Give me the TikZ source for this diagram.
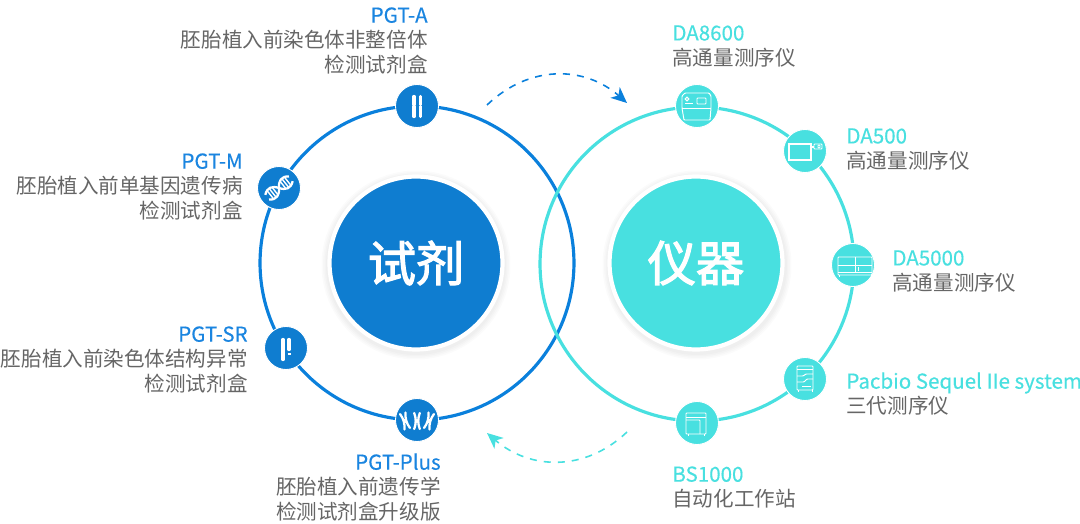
\documentclass[tikz,border=0pt]{standalone}
\usepackage{fontspec}
\setmainfont{Noto Sans CJK SC}
\newfontfamily\hubfont[FakeBold=2.4]{Noto Sans CJK SC}
\newfontfamily\titlefont[FakeBold=.3]{Noto Sans CJK SC}
\usetikzlibrary{arrows.meta}
\definecolor{reagblue}{HTML}{0F7DD0}
\definecolor{ringblue}{HTML}{0A80DC}
\definecolor{instteal}{HTML}{48E0E0}
\definecolor{labgray}{HTML}{666666}
\definecolor{labblue}{HTML}{1A85E0}
\newcommand{\bluetitle}[1]{\textcolor{labblue}{\titlefont #1}}
\newcommand{\tealtitle}[1]{\textcolor{instteal}{\titlefont #1}}
\tikzset{
  ringline/.style={circle,draw=#1,line width=1.8pt,minimum size=6.28cm,inner sep=0pt},
  hubdisc/.style={circle,fill=#1,draw=white,line width=2.4pt,minimum size=3.46cm,inner sep=0pt,text=white,font=\fontsize{27.5}{30}\hubfont},
  iconbase/.style={circle,fill=#1,draw=white,line width=.5pt,minimum size=.86cm,inner sep=0pt},
  leftlab/.style={anchor=north east,align=right,inner sep=0pt,text=labgray,font=\fontsize{11.7}{14.2}\selectfont},
  rightlab/.style={anchor=north west,align=left,inner sep=0pt,text=labgray,font=\fontsize{11.7}{14.2}\selectfont},
  chromo/.style={white,line width=1.9pt,line cap=round},
  xchromo/.style={white,line width=1.3pt,line cap=round},
  thinicon/.style={white,line width=.55pt,rounded corners=.4pt},
  flowarrow/.style={dashed,dash pattern=on 4pt off 4pt,line width=.9pt,-{Stealth[length=9pt,width=8pt,inset=2.5pt]},#1}
}
\begin{document}
\begin{tikzpicture}[x=.02cm,y=-.02cm]
\useasboundingbox (0,0) rectangle (1080,524);
\fill[white] (0,0) rectangle (1080,524);

% two big rings
\node[ringline=ringblue] (ringL) at (417,263) {};
\node[ringline=instteal] (ringR) at (697,264) {};

% soft shadow below the hubs
\foreach \c in {416,697}
  \foreach \r in {1.80,1.83,1.86,1.89}
    \fill[black,opacity=.014] (\c,265) circle(\r cm);

\node[hubdisc=reagblue] (hubL) at (416,263) {试剂};
\node[hubdisc=instteal] (hubR) at (696,263) {仪器};

% small round icons
\foreach \n/\x/\y in {icA/417/106,icM/279/188,icSR/286/348,icPlus/417/420}
  \node[iconbase=reagblue] (\n) at (\x,\y) {};
\foreach \n/\x/\y in {icE/697/106,icF/805/151,icG/853/265,icH/805/379,icJ/697/423}
  \node[iconbase=instteal] (\n) at (\x,\y) {};

% chromosome pair
\begin{scope}[shift={(icA)}]
  \foreach \x in {-3,3.5} {
    \draw[chromo] (\x,-9.5) -- (\x,-1.5);
    \draw[chromo] (\x,.5) -- (\x,10.5);
  }
\end{scope}

% helix
\begin{scope}[shift={(icM)},rotate=38]
  \draw[white,line width=1.3pt] (-15,-3) .. controls (-9,-8) and (-4,-6) .. (0,0) .. controls (4,6) and (9,8) .. (15,3);
  \draw[white,line width=1.3pt] (-15,3) .. controls (-9,8) and (-4,6) .. (0,0) .. controls (4,-6) and (9,-8) .. (15,-3);
  \foreach \x in {-11,-8,-5,5,8,11}
    \draw[white,line width=.8pt] (\x,-5) -- (\x,5);
\end{scope}

% broken chromosome
\begin{scope}[shift={(icSR)}]
  \draw[chromo] (-3,-8.5) -- (-3,11.5);
  \draw[chromo] (3,-8.5) -- (3,1.5);
  \draw[white,line width=.9pt] (1.5,6) -- (5,6);
\end{scope}

% three chromosomes
\begin{scope}[shift={(icPlus)}]
  \foreach \x/\a in {-12/16,0/0,12/-16} {
    \begin{scope}[shift={(\x,1)},rotate=\a]
      \draw[xchromo] (-2.8,-8) .. controls (-.8,-3) and (-.8,3) .. (-2.8,8);
      \draw[xchromo] (2.8,-8) .. controls (.8,-3) and (.8,3) .. (2.8,8);
      \fill[white] (0,0) circle(2);
    \end{scope}
  }
\end{scope}

% DA8600
\begin{scope}[shift={(icE)}]
  \draw[thinicon] (-15,2) -- (-15,-10) -- (-12,-13) -- (12,-13) -- (14,-10) -- (14,2) -- (13,14) -- (-13,14) -- cycle;
  \draw[thinicon] (-15,2) -- (14,2);
  \draw[thinicon] (0,-8) rectangle (9,-2);
  \draw[thinicon] (-12,-3) -- (-4,-3);
  \draw[white,line width=.6pt] (-10,-7) circle(1.8);
\end{scope}

% DA500
\begin{scope}[shift={(icF)}]
  \draw[white,line width=.7pt] (-16,-7) rectangle (6,9);
  \draw[thinicon] (9,-7) rectangle (17,-2);
  \draw[white,line width=.6pt] (6,-4) -- (9,-4);
  \draw[thinicon] (13,-6) rectangle (15,-3);
\end{scope}

% DA5000
\begin{scope}[shift={(icG)}]
  \draw[thinicon] (-15,-8) rectangle (19,10);
  \draw[thinicon] (-15,0) -- (19,0);
  \draw[thinicon] (-15,7) -- (19,7);
  \draw[thinicon] (2,-8) -- (2,7);
  \draw[thinicon] (5,2) -- (5,6);
  \draw[thinicon] (-14,10) -- (-14,12) (18,10) -- (18,12);
\end{scope}

% Pacbio
\begin{scope}[shift={(icH)}]
  \draw[thinicon] (-8,-13) rectangle (8,11);
  \draw[thinicon] (-8,-10) -- (8,-10);
  \draw[thinicon] (-8,-3) -- (-2,-3) -- (1,-5) -- (8,-5);
  \draw[thinicon] (-8,3) -- (-1,3) -- (2,0) -- (8,0);
  \draw[thinicon] (-3,7) -- (6,7);
  \draw[thinicon] (-7,11) -- (-7,13) (7,11) -- (7,13);
\end{scope}

% BS1000
\begin{scope}[shift={(icJ)}]
  \draw[thinicon] (-11,-10) rectangle (9,11);
  \draw[thinicon] (-11,-6) -- (9,-6);
  \draw[thinicon] (-11,-3) -- (3,-3) -- (3,11);
  \draw[thinicon] (-9,11) -- (-9,13) (7,11) -- (7,13);
\end{scope}

% labels of the left ring
\node[leftlab] (labA) at (428,7) {\bluetitle{PGT-A}\\胚胎植入前染色体非整倍体\\检测试剂盒};
\node[leftlab] (labM) at (243,153) {\bluetitle{PGT-M}\\胚胎植入前单基因遗传病\\检测试剂盒};
\node[leftlab] (labSR) at (248,326) {\bluetitle{PGT-SR}\\胚胎植入前染色体结构异常\\检测试剂盒};
\node[leftlab] (labPlus) at (441,453) {\bluetitle{PGT-Plus}\\胚胎植入前遗传学\\检测试剂盒升级版};

% labels of the right ring
\node[rightlab] (labE) at (672,25) {\tealtitle{DA8600}\\高通量测序仪};
\node[rightlab] (labF) at (846,128) {\tealtitle{DA500}\\高通量测序仪};
\node[rightlab] (labG) at (892,250) {\tealtitle{DA5000}\\高通量测序仪};
\node[rightlab] (labH) at (846,372) {\tealtitle{Pacbio Sequel IIe system}\\三代测序仪};
\node[rightlab] (labJ) at (672,466) {\tealtitle{BS1000}\\自动化工作站};

% dashed flow arrows
\coordinate (flowAs) at (487,105);
\coordinate (flowAe) at (627,103);
\coordinate (flowBs) at (627,432);
\coordinate (flowBe) at (487,433);
\draw[flowarrow=ringblue] (flowAs) .. controls (530,64) and (585,66) .. (flowAe);
\draw[flowarrow=instteal] (flowBs) .. controls (585,472) and (530,470) .. (flowBe);

\end{tikzpicture}
\end{document}
